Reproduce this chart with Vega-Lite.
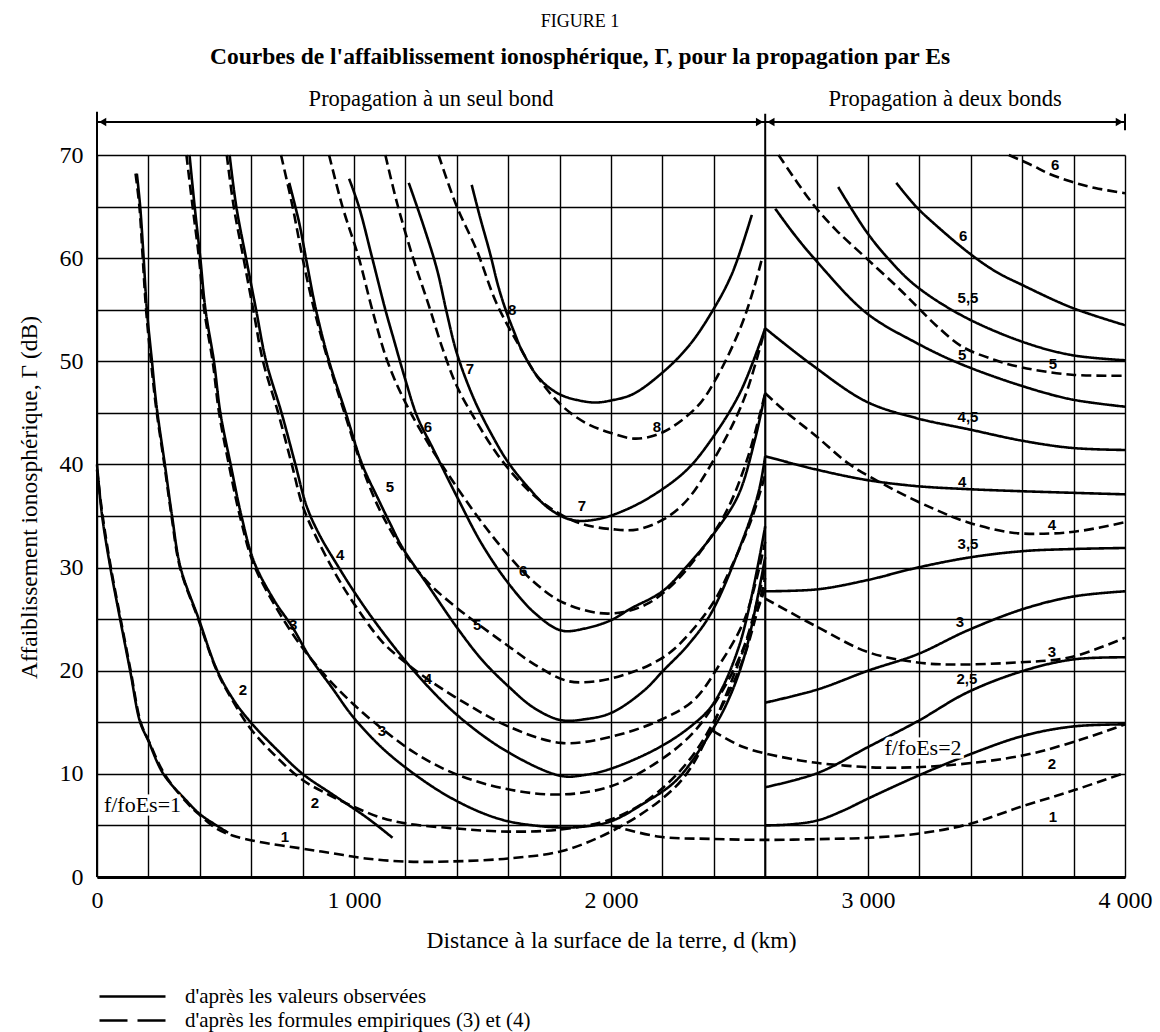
{
  "$schema": "https://vega.github.io/schema/vega-lite/v6.json",
  "width": 1028,
  "height": 722,
  "autosize": {"type": "none"},
  "padding": {"left": 97, "top": 155, "right": 35, "bottom": 155},
  "background": "white",
  "title": {
    "text": "FIGURE 1",
    "subtitle": "Courbes de l'affaiblissement ionosphérique, Γ, pour la propagation par Es",
    "anchor": "middle",
    "dx": -31,
    "font": "Liberation Serif",
    "fontSize": 18,
    "fontWeight": "normal",
    "color": "black",
    "subtitleFont": "Liberation Serif",
    "subtitleFontSize": 23.5,
    "subtitleFontWeight": "bold",
    "subtitleColor": "black",
    "subtitlePadding": 14,
    "offset": 20
  },
  "config": {
    "view": {"stroke": null},
    "axis": {
      "labelFont": "Liberation Serif",
      "labelFontSize": 24,
      "labelColor": "black",
      "titleFont": "Liberation Serif",
      "titleFontSize": 23.5,
      "titleFontWeight": "normal",
      "titleColor": "black",
      "grid": true,
      "gridColor": "black",
      "gridOpacity": 1,
      "gridWidth": 1.4,
      "ticks": false,
      "labelFlush": false,
      "labelOverlap": false,
      "labelBound": false
    }
  },
  "datasets": {
    "curves": [
      {"c":"s1","t":"obs","d":0,"g":40},{"c":"s1","t":"obs","d":20,"g":35},{"c":"s1","t":"obs","d":52,"g":30},{"c":"s1","t":"obs","d":90,"g":25},{"c":"s1","t":"obs","d":129,"g":20},{"c":"s1","t":"obs","d":168,"g":15},{"c":"s1","t":"obs","d":200,"g":13.2},{"c":"s1","t":"obs","d":258,"g":10},{"c":"s1","t":"obs","d":348,"g":7.4},{"c":"s1","t":"obs","d":400,"g":6.1},{"c":"s1","t":"obs","d":465,"g":5.0},{"c":"s1","t":"obs","d":510,"g":4.3},

      {"c":"d1","t":"emp","d":0,"g":39.5},{"c":"d1","t":"emp","d":22,"g":35},{"c":"d1","t":"emp","d":54,"g":30},{"c":"d1","t":"emp","d":92,"g":25},{"c":"d1","t":"emp","d":131,"g":20},{"c":"d1","t":"emp","d":170,"g":15},{"c":"d1","t":"emp","d":205,"g":13},{"c":"d1","t":"emp","d":262,"g":10},{"c":"d1","t":"emp","d":350,"g":7.2},{"c":"d1","t":"emp","d":400,"g":6.0},{"c":"d1","t":"emp","d":465,"g":4.7},{"c":"d1","t":"emp","d":530,"g":4.0},{"c":"d1","t":"emp","d":632,"g":3.4},{"c":"d1","t":"emp","d":787,"g":2.8},{"c":"d1","t":"emp","d":916,"g":2.3},{"c":"d1","t":"emp","d":1045,"g":1.8},{"c":"d1","t":"emp","d":1200,"g":1.5},{"c":"d1","t":"emp","d":1368,"g":1.5},{"c":"d1","t":"emp","d":1600,"g":1.8},{"c":"d1","t":"emp","d":1806,"g":2.5},{"c":"d1","t":"emp","d":2000,"g":4.4},{"c":"d1","t":"emp","d":2190,"g":7.4},{"c":"d1","t":"emp","d":2294,"g":10},{"c":"d1","t":"emp","d":2398,"g":14.8},{"c":"d1","t":"emp","d":2500,"g":21},{"c":"d1","t":"emp","d":2600,"g":28},

      {"c":"s2","t":"obs","d":155,"g":68.2},{"c":"s2","t":"obs","d":168,"g":65},{"c":"s2","t":"obs","d":181,"g":60.2},{"c":"s2","t":"obs","d":194,"g":55},{"c":"s2","t":"obs","d":213,"g":50.2},{"c":"s2","t":"obs","d":232,"g":45.6},{"c":"s2","t":"obs","d":264,"g":40},{"c":"s2","t":"obs","d":292,"g":35},{"c":"s2","t":"obs","d":325,"g":30},{"c":"s2","t":"obs","d":396,"g":25},{"c":"s2","t":"obs","d":468,"g":20},{"c":"s2","t":"obs","d":533,"g":17.1},{"c":"s2","t":"obs","d":598,"g":15},{"c":"s2","t":"obs","d":702,"g":12.3},{"c":"s2","t":"obs","d":800,"g":10},{"c":"s2","t":"obs","d":923,"g":7.9},{"c":"s2","t":"obs","d":1053,"g":5.7},{"c":"s2","t":"obs","d":1150,"g":3.8},

      {"c":"d2","t":"emp","d":150,"g":68.2},{"c":"d2","t":"emp","d":165,"g":65},{"c":"d2","t":"emp","d":178,"g":60},{"c":"d2","t":"emp","d":191,"g":55},{"c":"d2","t":"emp","d":210,"g":50},{"c":"d2","t":"emp","d":230,"g":45.5},{"c":"d2","t":"emp","d":262,"g":40},{"c":"d2","t":"emp","d":290,"g":35},{"c":"d2","t":"emp","d":323,"g":30},{"c":"d2","t":"emp","d":394,"g":25},{"c":"d2","t":"emp","d":466,"g":20},{"c":"d2","t":"emp","d":530,"g":17},{"c":"d2","t":"emp","d":600,"g":14.3},{"c":"d2","t":"emp","d":700,"g":11.6},{"c":"d2","t":"emp","d":800,"g":9.4},{"c":"d2","t":"emp","d":900,"g":8.0},{"c":"d2","t":"emp","d":1000,"g":6.8},{"c":"d2","t":"emp","d":1100,"g":5.8},{"c":"d2","t":"emp","d":1200,"g":5.2},{"c":"d2","t":"emp","d":1400,"g":4.7},{"c":"d2","t":"emp","d":1600,"g":4.4},{"c":"d2","t":"emp","d":1800,"g":4.6},{"c":"d2","t":"emp","d":2000,"g":5.6},{"c":"d2","t":"emp","d":2150,"g":7.6},{"c":"d2","t":"emp","d":2300,"g":11.2},{"c":"d2","t":"emp","d":2420,"g":16},{"c":"d2","t":"emp","d":2520,"g":21.5},{"c":"d2","t":"emp","d":2600,"g":29},

      {"c":"s3","t":"obs","d":360,"g":70},{"c":"s3","t":"obs","d":380,"g":65},{"c":"s3","t":"obs","d":402,"g":60},{"c":"s3","t":"obs","d":422,"g":55},{"c":"s3","t":"obs","d":455,"g":50},{"c":"s3","t":"obs","d":480,"g":45},{"c":"s3","t":"obs","d":520,"g":40},{"c":"s3","t":"obs","d":562,"g":35},{"c":"s3","t":"obs","d":612,"g":30.5},{"c":"s3","t":"obs","d":690,"g":26.8},{"c":"s3","t":"obs","d":761,"g":24.2},{"c":"s3","t":"obs","d":826,"g":21.4},{"c":"s3","t":"obs","d":916,"g":18.3},{"c":"s3","t":"obs","d":994,"g":15.6},{"c":"s3","t":"obs","d":1110,"g":12.5},{"c":"s3","t":"obs","d":1239,"g":9.9},{"c":"s3","t":"obs","d":1368,"g":7.8},{"c":"s3","t":"obs","d":1500,"g":6.2},{"c":"s3","t":"obs","d":1600,"g":5.4},{"c":"s3","t":"obs","d":1700,"g":5.0},{"c":"s3","t":"obs","d":1806,"g":4.8},{"c":"s3","t":"obs","d":1900,"g":4.9},{"c":"s3","t":"obs","d":2000,"g":5.4},{"c":"s3","t":"obs","d":2125,"g":7.1},{"c":"s3","t":"obs","d":2255,"g":9.4},{"c":"s3","t":"obs","d":2385,"g":13.9},{"c":"s3","t":"obs","d":2450,"g":16.8},{"c":"s3","t":"obs","d":2520,"g":21.5},{"c":"s3","t":"obs","d":2600,"g":31},

      {"c":"d3","t":"emp","d":348,"g":70},{"c":"d3","t":"emp","d":372,"g":65},{"c":"d3","t":"emp","d":397,"g":60},{"c":"d3","t":"emp","d":417,"g":55},{"c":"d3","t":"emp","d":450,"g":50},{"c":"d3","t":"emp","d":475,"g":45},{"c":"d3","t":"emp","d":513,"g":40},{"c":"d3","t":"emp","d":556,"g":35},{"c":"d3","t":"emp","d":610,"g":30.3},{"c":"d3","t":"emp","d":700,"g":26},{"c":"d3","t":"emp","d":800,"g":22.2},{"c":"d3","t":"emp","d":900,"g":19.2},{"c":"d3","t":"emp","d":1000,"g":16.7},{"c":"d3","t":"emp","d":1103,"g":14.5},{"c":"d3","t":"emp","d":1239,"g":12},{"c":"d3","t":"emp","d":1394,"g":10},{"c":"d3","t":"emp","d":1600,"g":8.5},{"c":"d3","t":"emp","d":1806,"g":8.0},{"c":"d3","t":"emp","d":2000,"g":8.8},{"c":"d3","t":"emp","d":2190,"g":11.3},{"c":"d3","t":"emp","d":2320,"g":14},{"c":"d3","t":"emp","d":2420,"g":17.5},{"c":"d3","t":"emp","d":2520,"g":22.5},{"c":"d3","t":"emp","d":2600,"g":30},

      {"c":"s4","t":"obs","d":516,"g":70},{"c":"s4","t":"obs","d":542,"g":65},{"c":"s4","t":"obs","d":580,"g":60},{"c":"s4","t":"obs","d":619,"g":55},{"c":"s4","t":"obs","d":658,"g":50},{"c":"s4","t":"obs","d":718,"g":45},{"c":"s4","t":"obs","d":772,"g":40},{"c":"s4","t":"obs","d":815,"g":36},{"c":"s4","t":"obs","d":865,"g":33.2},{"c":"s4","t":"obs","d":941,"g":30.0},{"c":"s4","t":"obs","d":1010,"g":27.3},{"c":"s4","t":"obs","d":1110,"g":23.8},{"c":"s4","t":"obs","d":1250,"g":19.5},{"c":"s4","t":"obs","d":1406,"g":15.6},{"c":"s4","t":"obs","d":1600,"g":12.1},{"c":"s4","t":"obs","d":1806,"g":9.8},{"c":"s4","t":"obs","d":1900,"g":9.9},{"c":"s4","t":"obs","d":2000,"g":10.5},{"c":"s4","t":"obs","d":2190,"g":12.6},{"c":"s4","t":"obs","d":2320,"g":14.8},{"c":"s4","t":"obs","d":2398,"g":16.8},{"c":"s4","t":"obs","d":2500,"g":22.5},{"c":"s4","t":"obs","d":2600,"g":34},

      {"c":"d4","t":"emp","d":505,"g":70},{"c":"d4","t":"emp","d":532,"g":65},{"c":"d4","t":"emp","d":570,"g":60},{"c":"d4","t":"emp","d":608,"g":55},{"c":"d4","t":"emp","d":646,"g":50},{"c":"d4","t":"emp","d":705,"g":45},{"c":"d4","t":"emp","d":758,"g":40},{"c":"d4","t":"emp","d":800,"g":36},{"c":"d4","t":"emp","d":852,"g":33},{"c":"d4","t":"emp","d":930,"g":29.3},{"c":"d4","t":"emp","d":1000,"g":26.5},{"c":"d4","t":"emp","d":1110,"g":22.8},{"c":"d4","t":"emp","d":1200,"g":20.8},{"c":"d4","t":"emp","d":1297,"g":19},{"c":"d4","t":"emp","d":1450,"g":16.6},{"c":"d4","t":"emp","d":1600,"g":14.6},{"c":"d4","t":"emp","d":1806,"g":13.0},{"c":"d4","t":"emp","d":2000,"g":13.6},{"c":"d4","t":"emp","d":2190,"g":15.2},{"c":"d4","t":"emp","d":2320,"g":17.1},{"c":"d4","t":"emp","d":2420,"g":20.5},{"c":"d4","t":"emp","d":2520,"g":25},{"c":"d4","t":"emp","d":2600,"g":32.5},

      {"c":"s5","t":"obs","d":748,"g":67.3},{"c":"s5","t":"obs","d":787,"g":63.4},{"c":"s5","t":"obs","d":813,"g":60},{"c":"s5","t":"obs","d":852,"g":55},{"c":"s5","t":"obs","d":903,"g":50},{"c":"s5","t":"obs","d":968,"g":45},{"c":"s5","t":"obs","d":1032,"g":40},{"c":"s5","t":"obs","d":1097,"g":36.5},{"c":"s5","t":"obs","d":1140,"g":34.3},{"c":"s5","t":"obs","d":1187,"g":32},{"c":"s5","t":"obs","d":1290,"g":28.2},{"c":"s5","t":"obs","d":1406,"g":24},{"c":"s5","t":"obs","d":1500,"g":21},{"c":"s5","t":"obs","d":1600,"g":18.5},{"c":"s5","t":"obs","d":1700,"g":16.4},{"c":"s5","t":"obs","d":1806,"g":15.2},{"c":"s5","t":"obs","d":1900,"g":15.3},{"c":"s5","t":"obs","d":2000,"g":15.9},{"c":"s5","t":"obs","d":2125,"g":18},{"c":"s5","t":"obs","d":2207,"g":20.1},{"c":"s5","t":"obs","d":2300,"g":22.5},{"c":"s5","t":"obs","d":2390,"g":25.6},{"c":"s5","t":"obs","d":2508,"g":32.4},{"c":"s5","t":"obs","d":2574,"g":37.3},{"c":"s5","t":"obs","d":2600,"g":40.8},

      {"c":"d5","t":"emp","d":716,"g":70},{"c":"d5","t":"emp","d":761,"g":65},{"c":"d5","t":"emp","d":800,"g":60},{"c":"d5","t":"emp","d":845,"g":55},{"c":"d5","t":"emp","d":900,"g":50},{"c":"d5","t":"emp","d":963,"g":45},{"c":"d5","t":"emp","d":1028,"g":40},{"c":"d5","t":"emp","d":1100,"g":35.6},{"c":"d5","t":"emp","d":1200,"g":31.3},{"c":"d5","t":"emp","d":1290,"g":28.5},{"c":"d5","t":"emp","d":1390,"g":26.3},{"c":"d5","t":"emp","d":1484,"g":24.5},{"c":"d5","t":"emp","d":1600,"g":22.4},{"c":"d5","t":"emp","d":1703,"g":20.6},{"c":"d5","t":"emp","d":1832,"g":19.0},{"c":"d5","t":"emp","d":1950,"g":19.0},{"c":"d5","t":"emp","d":2050,"g":19.6},{"c":"d5","t":"emp","d":2154,"g":20.6},{"c":"d5","t":"emp","d":2246,"g":22.1},{"c":"d5","t":"emp","d":2390,"g":26.3},{"c":"d5","t":"emp","d":2469,"g":30.1},{"c":"d5","t":"emp","d":2547,"g":34.7},{"c":"d5","t":"emp","d":2600,"g":39},

      {"c":"s6","t":"obs","d":981,"g":67.7},{"c":"s6","t":"obs","d":1019,"g":65},{"c":"s6","t":"obs","d":1071,"g":60},{"c":"s6","t":"obs","d":1122,"g":55},{"c":"s6","t":"obs","d":1155,"g":52.1},{"c":"s6","t":"obs","d":1200,"g":48.2},{"c":"s6","t":"obs","d":1245,"g":44.7},{"c":"s6","t":"obs","d":1310,"g":41.4},{"c":"s6","t":"obs","d":1400,"g":36.9},{"c":"s6","t":"obs","d":1497,"g":32.3},{"c":"s6","t":"obs","d":1600,"g":28.5},{"c":"s6","t":"obs","d":1703,"g":25.6},{"c":"s6","t":"obs","d":1806,"g":23.9},{"c":"s6","t":"obs","d":1900,"g":24.1},{"c":"s6","t":"obs","d":2000,"g":24.9},{"c":"s6","t":"obs","d":2075,"g":26},{"c":"s6","t":"obs","d":2200,"g":27.7},{"c":"s6","t":"obs","d":2298,"g":30.2},{"c":"s6","t":"obs","d":2403,"g":33.4},{"c":"s6","t":"obs","d":2495,"g":37},{"c":"s6","t":"obs","d":2560,"g":42.4},{"c":"s6","t":"obs","d":2600,"g":46.9},

      {"c":"d6","t":"emp","d":903,"g":70},{"c":"d6","t":"emp","d":955,"g":65},{"c":"d6","t":"emp","d":1019,"g":60},{"c":"d6","t":"emp","d":1071,"g":55},{"c":"d6","t":"emp","d":1130,"g":50},{"c":"d6","t":"emp","d":1200,"g":46},{"c":"d6","t":"emp","d":1290,"g":42},{"c":"d6","t":"emp","d":1400,"g":37.8},{"c":"d6","t":"emp","d":1500,"g":34.3},{"c":"d6","t":"emp","d":1600,"g":31.2},{"c":"d6","t":"emp","d":1700,"g":28.6},{"c":"d6","t":"emp","d":1806,"g":26.7},{"c":"d6","t":"emp","d":1950,"g":25.6},{"c":"d6","t":"emp","d":2050,"g":25.7},{"c":"d6","t":"emp","d":2150,"g":26.6},{"c":"d6","t":"emp","d":2250,"g":28.6},{"c":"d6","t":"emp","d":2350,"g":31.6},{"c":"d6","t":"emp","d":2450,"g":35.5},{"c":"d6","t":"emp","d":2530,"g":40.5},{"c":"d6","t":"emp","d":2600,"g":46.9},

      {"c":"s7","t":"obs","d":1213,"g":67.3},{"c":"s7","t":"obs","d":1271,"g":63.1},{"c":"s7","t":"obs","d":1323,"g":58.9},{"c":"s7","t":"obs","d":1361,"g":54.7},{"c":"s7","t":"obs","d":1400,"g":50.8},{"c":"s7","t":"obs","d":1464,"g":46.5},{"c":"s7","t":"obs","d":1529,"g":43.2},{"c":"s7","t":"obs","d":1600,"g":40.2},{"c":"s7","t":"obs","d":1684,"g":37.6},{"c":"s7","t":"obs","d":1760,"g":35.7},{"c":"s7","t":"obs","d":1850,"g":34.6},{"c":"s7","t":"obs","d":1950,"g":34.7},{"c":"s7","t":"obs","d":2075,"g":35.8},{"c":"s7","t":"obs","d":2200,"g":37.6},{"c":"s7","t":"obs","d":2300,"g":39.6},{"c":"s7","t":"obs","d":2390,"g":42.4},{"c":"s7","t":"obs","d":2503,"g":47},{"c":"s7","t":"obs","d":2600,"g":53.2},

      {"c":"d7","t":"emp","d":1122,"g":70},{"c":"d7","t":"emp","d":1168,"g":65.3},{"c":"d7","t":"emp","d":1230,"g":60},{"c":"d7","t":"emp","d":1290,"g":55.5},{"c":"d7","t":"emp","d":1345,"g":51.2},{"c":"d7","t":"emp","d":1400,"g":47.6},{"c":"d7","t":"emp","d":1480,"g":44},{"c":"d7","t":"emp","d":1560,"g":40.9},{"c":"d7","t":"emp","d":1650,"g":38.2},{"c":"d7","t":"emp","d":1750,"g":36},{"c":"d7","t":"emp","d":1878,"g":34.3},{"c":"d7","t":"emp","d":2013,"g":33.7},{"c":"d7","t":"emp","d":2103,"g":33.7},{"c":"d7","t":"emp","d":2206,"g":34.7},{"c":"d7","t":"emp","d":2298,"g":36.6},{"c":"d7","t":"emp","d":2430,"g":41.8},{"c":"d7","t":"emp","d":2520,"g":46.5},{"c":"d7","t":"emp","d":2600,"g":53.2},

      {"c":"s8","t":"obs","d":1458,"g":67.1},{"c":"s8","t":"obs","d":1490,"g":64},{"c":"s8","t":"obs","d":1529,"g":60.5},{"c":"s8","t":"obs","d":1561,"g":57.3},{"c":"s8","t":"obs","d":1590,"g":55},{"c":"s8","t":"obs","d":1619,"g":53.1},{"c":"s8","t":"obs","d":1658,"g":50.8},{"c":"s8","t":"obs","d":1722,"g":48.3},{"c":"s8","t":"obs","d":1800,"g":46.8},{"c":"s8","t":"obs","d":1877,"g":46.2},{"c":"s8","t":"obs","d":1940,"g":46.0},{"c":"s8","t":"obs","d":2000,"g":46.2},{"c":"s8","t":"obs","d":2084,"g":46.8},{"c":"s8","t":"obs","d":2200,"g":48.9},{"c":"s8","t":"obs","d":2303,"g":51.5},{"c":"s8","t":"obs","d":2393,"g":54.8},{"c":"s8","t":"obs","d":2471,"g":58.5},{"c":"s8","t":"obs","d":2548,"g":64.2},

      {"c":"d8","t":"emp","d":1329,"g":70},{"c":"d8","t":"emp","d":1400,"g":65},{"c":"d8","t":"emp","d":1477,"g":60.8},{"c":"d8","t":"emp","d":1555,"g":55.6},{"c":"d8","t":"emp","d":1645,"g":51.4},{"c":"d8","t":"emp","d":1722,"g":48.2},{"c":"d8","t":"emp","d":1813,"g":45.6},{"c":"d8","t":"emp","d":1903,"g":44},{"c":"d8","t":"emp","d":1993,"g":43.1},{"c":"d8","t":"emp","d":2097,"g":42.5},{"c":"d8","t":"emp","d":2200,"g":43.1},{"c":"d8","t":"emp","d":2335,"g":45.6},{"c":"d8","t":"emp","d":2413,"g":48.5},{"c":"d8","t":"emp","d":2503,"g":53.2},{"c":"d8","t":"emp","d":2555,"g":57},{"c":"d8","t":"emp","d":2590,"g":60.2},

      {"c":"h20","t":"obs","d":2600,"g":5.0},{"c":"h20","t":"obs","d":2700,"g":5.1},{"c":"h20","t":"obs","d":2806,"g":5.5},{"c":"h20","t":"obs","d":2900,"g":6.4},{"c":"h20","t":"obs","d":3000,"g":7.6},{"c":"h20","t":"obs","d":3193,"g":9.8},{"c":"h20","t":"obs","d":3387,"g":11.8},{"c":"h20","t":"obs","d":3606,"g":13.7},{"c":"h20","t":"obs","d":3800,"g":14.6},{"c":"h20","t":"obs","d":4000,"g":14.8},

      {"c":"h25","t":"obs","d":2600,"g":8.7},{"c":"h25","t":"obs","d":2806,"g":10.1},{"c":"h25","t":"obs","d":3000,"g":12.6},{"c":"h25","t":"obs","d":3193,"g":15.1},{"c":"h25","t":"obs","d":3387,"g":17.9},{"c":"h25","t":"obs","d":3606,"g":20},{"c":"h25","t":"obs","d":3800,"g":21.1},{"c":"h25","t":"obs","d":4000,"g":21.3},

      {"c":"h30","t":"obs","d":2600,"g":16.9},{"c":"h30","t":"obs","d":2806,"g":18.2},{"c":"h30","t":"obs","d":3000,"g":20},{"c":"h30","t":"obs","d":3193,"g":21.6},{"c":"h30","t":"obs","d":3387,"g":23.9},{"c":"h30","t":"obs","d":3606,"g":26},{"c":"h30","t":"obs","d":3800,"g":27.2},{"c":"h30","t":"obs","d":4000,"g":27.7},

      {"c":"h35","t":"obs","d":2600,"g":27.7},{"c":"h35","t":"obs","d":2806,"g":27.9},{"c":"h35","t":"obs","d":3000,"g":28.8},{"c":"h35","t":"obs","d":3193,"g":30},{"c":"h35","t":"obs","d":3400,"g":31},{"c":"h35","t":"obs","d":3606,"g":31.6},{"c":"h35","t":"obs","d":3800,"g":31.8},{"c":"h35","t":"obs","d":4000,"g":31.9},

      {"c":"h40","t":"obs","d":2600,"g":40.8},{"c":"h40","t":"obs","d":2800,"g":39.5},{"c":"h40","t":"obs","d":2993,"g":38.5},{"c":"h40","t":"obs","d":3187,"g":37.9},{"c":"h40","t":"obs","d":3393,"g":37.6},{"c":"h40","t":"obs","d":3600,"g":37.4},{"c":"h40","t":"obs","d":4000,"g":37.1},

      {"c":"h45","t":"obs","d":2600,"g":53.2},{"c":"h45","t":"obs","d":2774,"g":49.8},{"c":"h45","t":"obs","d":2993,"g":46.1},{"c":"h45","t":"obs","d":3187,"g":44.5},{"c":"h45","t":"obs","d":3393,"g":43.4},{"c":"h45","t":"obs","d":3600,"g":42.3},{"c":"h45","t":"obs","d":3793,"g":41.6},{"c":"h45","t":"obs","d":4000,"g":41.4},

      {"c":"h50","t":"obs","d":2639,"g":64.8},{"c":"h50","t":"obs","d":2710,"g":62.4},{"c":"h50","t":"obs","d":2800,"g":59.7},{"c":"h50","t":"obs","d":2993,"g":54.7},{"c":"h50","t":"obs","d":3187,"g":51.8},{"c":"h50","t":"obs","d":3355,"g":49.8},{"c":"h50","t":"obs","d":3600,"g":47.6},{"c":"h50","t":"obs","d":3793,"g":46.3},{"c":"h50","t":"obs","d":4000,"g":45.6},

      {"c":"h55","t":"obs","d":2884,"g":66.9},{"c":"h55","t":"obs","d":2993,"g":62.6},{"c":"h55","t":"obs","d":3084,"g":59.8},{"c":"h55","t":"obs","d":3187,"g":57.3},{"c":"h55","t":"obs","d":3368,"g":54.4},{"c":"h55","t":"obs","d":3600,"g":51.9},{"c":"h55","t":"obs","d":3793,"g":50.6},{"c":"h55","t":"obs","d":4000,"g":50.1},

      {"c":"h60","t":"obs","d":3110,"g":67.3},{"c":"h60","t":"obs","d":3187,"g":65},{"c":"h60","t":"obs","d":3264,"g":63.2},{"c":"h60","t":"obs","d":3393,"g":60.5},{"c":"h60","t":"obs","d":3497,"g":58.7},{"c":"h60","t":"obs","d":3600,"g":57.4},{"c":"h60","t":"obs","d":3793,"g":55.2},{"c":"h60","t":"obs","d":4000,"g":53.5},

      {"c":"k1","t":"emp","d":2000,"g":5.0},{"c":"k1","t":"emp","d":2190,"g":3.9},{"c":"k1","t":"emp","d":2385,"g":3.7},{"c":"k1","t":"emp","d":2600,"g":3.6},{"c":"k1","t":"emp","d":2858,"g":3.7},{"c":"k1","t":"emp","d":3000,"g":3.8},{"c":"k1","t":"emp","d":3193,"g":4.2},{"c":"k1","t":"emp","d":3387,"g":5.1},{"c":"k1","t":"emp","d":3606,"g":6.9},{"c":"k1","t":"emp","d":3800,"g":8.4},{"c":"k1","t":"emp","d":4000,"g":10.1},

      {"c":"k2","t":"emp","d":2395,"g":14.2},{"c":"k2","t":"emp","d":2515,"g":12.6},{"c":"k2","t":"emp","d":2736,"g":11.3},{"c":"k2","t":"emp","d":2910,"g":10.8},{"c":"k2","t":"emp","d":3064,"g":10.6},{"c":"k2","t":"emp","d":3297,"g":10.8},{"c":"k2","t":"emp","d":3606,"g":11.8},{"c":"k2","t":"emp","d":3838,"g":13.4},{"c":"k2","t":"emp","d":4000,"g":14.8},

      {"c":"k3","t":"emp","d":2600,"g":27},{"c":"k3","t":"emp","d":2806,"g":24.2},{"c":"k3","t":"emp","d":3000,"g":21.8},{"c":"k3","t":"emp","d":3193,"g":20.8},{"c":"k3","t":"emp","d":3322,"g":20.6},{"c":"k3","t":"emp","d":3580,"g":20.8},{"c":"k3","t":"emp","d":3787,"g":21.3},{"c":"k3","t":"emp","d":4000,"g":23.2},

      {"c":"k4","t":"emp","d":2600,"g":46.9},{"c":"k4","t":"emp","d":2671,"g":45.3},{"c":"k4","t":"emp","d":2800,"g":42.7},{"c":"k4","t":"emp","d":2929,"g":40},{"c":"k4","t":"emp","d":3097,"g":37.6},{"c":"k4","t":"emp","d":3264,"g":35.6},{"c":"k4","t":"emp","d":3387,"g":34.4},{"c":"k4","t":"emp","d":3555,"g":33.4},{"c":"k4","t":"emp","d":3709,"g":33.3},{"c":"k4","t":"emp","d":3838,"g":33.6},{"c":"k4","t":"emp","d":4000,"g":34.4},

      {"c":"k5","t":"emp","d":2652,"g":70},{"c":"k5","t":"emp","d":2787,"g":65.2},{"c":"k5","t":"emp","d":2877,"g":62.7},{"c":"k5","t":"emp","d":2993,"g":60},{"c":"k5","t":"emp","d":3110,"g":57.3},{"c":"k5","t":"emp","d":3187,"g":55.4},{"c":"k5","t":"emp","d":3264,"g":53.5},{"c":"k5","t":"emp","d":3368,"g":51.4},{"c":"k5","t":"emp","d":3497,"g":50.1},{"c":"k5","t":"emp","d":3600,"g":49.4},{"c":"k5","t":"emp","d":3793,"g":48.7},{"c":"k5","t":"emp","d":4000,"g":48.6},

      {"c":"k6","t":"emp","d":3548,"g":70},{"c":"k6","t":"emp","d":3638,"g":69},{"c":"k6","t":"emp","d":3703,"g":68.2},{"c":"k6","t":"emp","d":3793,"g":67.4},{"c":"k6","t":"emp","d":3884,"g":66.8},{"c":"k6","t":"emp","d":4000,"g":66.3}
    ],
    "curveLabels": [
      {"d":731,"g":3.9,"l":"1"},{"d":568,"g":18.1,"l":"2"},{"d":848,"g":7.2,"l":"2"},{"d":763,"g":24.4,"l":"3"},{"d":1109,"g":14.2,"l":"3"},
      {"d":946,"g":31.2,"l":"4"},{"d":1288,"g":19.2,"l":"4"},{"d":1140,"g":37.8,"l":"5"},{"d":1479,"g":24.4,"l":"5"},
      {"d":1288,"g":43.6,"l":"6"},{"d":1658,"g":29.7,"l":"6"},{"d":1451,"g":49.3,"l":"7"},{"d":1887,"g":36.0,"l":"7"},
      {"d":1615,"g":55.0,"l":"8"},{"d":2179,"g":43.6,"l":"8"},
      {"d":3728,"g":69.0,"l":"6"},{"d":3370,"g":62.1,"l":"6"},{"d":3389,"g":56.1,"l":"5,5"},{"d":3366,"g":50.6,"l":"5"},
      {"d":3720,"g":49.7,"l":"5"},{"d":3389,"g":44.6,"l":"4,5"},{"d":3366,"g":38.3,"l":"4"},{"d":3716,"g":34.1,"l":"4"},
      {"d":3389,"g":32.3,"l":"3,5"},{"d":3358,"g":24.7,"l":"3"},{"d":3716,"g":21.8,"l":"3"},{"d":3385,"g":19.2,"l":"2,5"},
      {"d":3716,"g":11.0,"l":"2"},{"d":3720,"g":5.8,"l":"1"}
    ],
    "ratioNotes": [
      {"d":177,"g":7.0,"l":"f/foEs=1"},
      {"d":3214,"g":12.5,"l":"f/foEs=2"}
    ],
    "spans": [
      {"d":1300,"g":75.4,"l":"Propagation à un seul bond"},
      {"d":3300,"g":75.4,"l":"Propagation à deux bonds"}
    ],
    "frame": [
      {"d":0,"g":0,"d2":0,"g2":74.2},
      {"d":2600,"g":0,"d2":2600,"g2":74},
      {"d":4000,"g":72.4,"d2":4000,"g2":74},
      {"d":0,"g":73.2,"d2":2600,"g2":73.2},
      {"d":2600,"g":73.2,"d2":4000,"g2":73.2}
    ],
    "arrowheads": [
      {"d":22,"g":73.2,"dir":"L"},
      {"d":2578,"g":73.2,"dir":"R"},
      {"d":2622,"g":73.2,"dir":"L"},
      {"d":3978,"g":73.2,"dir":"R"}
    ]
  },
  "resolve": {"scale": {"strokeDash": "independent"}, "legend": {"strokeDash": "independent"}},
  "layer": [
    {
      "data": {"name": "curves"},
      "mark": {"type": "line", "color": "black", "strokeWidth": 2.6, "interpolate": "catmull-rom"},
      "encoding": {
        "x": {
          "field": "d", "type": "quantitative",
          "scale": {"domain": [0, 4000], "nice": false, "zero": false},
          "title": "Distance à la surface de la terre,  d (km)",
          "axis": {
            "values": [0,200,400,600,800,1000,1200,1400,1600,1800,2000,2200,2400,2600,2800,3000,3200,3400,3600,3800,4000],
            "labelExpr": "datum.value % 1000 === 0 ? (datum.value === 0 ? '0' : (datum.value / 1000) + ' 000') : ''",
            "domain": true, "domainColor": "black", "domainWidth": 3,
            "labelPadding": 11, "titlePadding": 16
          }
        },
        "y": {
          "field": "g", "type": "quantitative",
          "scale": {"domain": [0, 70], "nice": false, "zero": false},
          "title": "Affaiblissement ionosphérique,  Γ (dB)",
          "axis": {
            "values": [0,5,10,15,20,25,30,35,40,45,50,55,60,65,70],
            "labelExpr": "datum.value % 10 === 0 ? datum.label : ''",
            "domain": false, "labelPadding": 14, "titlePadding": 18, "titleY": 342
          }
        },
        "detail": {"field": "c"},
        "strokeDash": {
          "field": "t", "type": "nominal",
          "scale": {"domain": ["obs", "emp"], "range": [[1, 0], [10, 5]]},
          "legend": null
        }
      }
    },
    {
      "data": {"name": "curves"},
      "mark": {"type": "line", "color": "black", "strokeWidth": 0},
      "encoding": {
        "x": {"field": "d", "type": "quantitative"},
        "y": {"field": "g", "type": "quantitative"},
        "detail": {"field": "c"},
        "strokeDash": {
          "field": "t", "type": "nominal",
          "scale": {"domain": ["obs", "emp"], "range": [[1, 0], [28, 10]]},
          "legend": {
            "orient": "none", "legendX": 23, "legendY": 829, "title": null,
            "symbolType": "M-3,0H3", "symbolSize": 484, "symbolStrokeWidth": 2.5, "symbolStrokeColor": "black",
            "labelExpr": "datum.value === 'obs' ? \"d'après les valeurs observées\" : \"d'après les formules empiriques  (3) et (4)\"",
            "labelFont": "Liberation Serif", "labelFontSize": 21, "labelColor": "black", "labelOffset": 40, "labelLimit": 0,
            "rowPadding": 1, "padding": 0
          }
        }
      }
    },
    {
      "data": {"name": "frame"},
      "mark": {"type": "rule", "color": "black", "strokeWidth": 2},
      "encoding": {
        "x": {"field": "d", "type": "quantitative", "scale": {"domain": [0, 4000], "nice": false, "zero": false}},
        "x2": {"field": "d2"},
        "y": {"field": "g", "type": "quantitative", "scale": {"domain": [0, 70], "nice": false, "zero": false}},
        "y2": {"field": "g2"}
      }
    },
    {
      "data": {"name": "arrowheads"},
      "mark": {"type": "point", "filled": true, "color": "black", "opacity": 1, "size": 70},
      "encoding": {
        "x": {"field": "d", "type": "quantitative"},
        "y": {"field": "g", "type": "quantitative"},
        "shape": {"field": "dir", "type": "nominal", "scale": {"domain": ["L", "R"], "range": ["triangle-left", "triangle-right"]}, "legend": null}
      }
    },
    {
      "data": {"name": "curveLabels"},
      "mark": {"type": "text", "font": "Liberation Sans", "fontWeight": "bold", "fontSize": 15, "color": "black"},
      "encoding": {
        "x": {"field": "d", "type": "quantitative"},
        "y": {"field": "g", "type": "quantitative"},
        "text": {"field": "l"}
      }
    },
    {
      "data": {"name": "ratioNotes"},
      "mark": {"type": "text", "font": "Liberation Serif", "fontSize": 22, "color": "white", "stroke": "white", "strokeWidth": 7},
      "encoding": {
        "x": {"field": "d", "type": "quantitative"},
        "y": {"field": "g", "type": "quantitative"},
        "text": {"field": "l"}
      }
    },
    {
      "data": {"name": "ratioNotes"},
      "mark": {"type": "text", "font": "Liberation Serif", "fontSize": 22, "color": "black"},
      "encoding": {
        "x": {"field": "d", "type": "quantitative"},
        "y": {"field": "g", "type": "quantitative"},
        "text": {"field": "l"}
      }
    },
    {
      "data": {"name": "spans"},
      "mark": {"type": "text", "font": "Liberation Serif", "fontSize": 22.5, "color": "black"},
      "encoding": {
        "x": {"field": "d", "type": "quantitative"},
        "y": {"field": "g", "type": "quantitative"},
        "text": {"field": "l"}
      }
    }
  ]
}
